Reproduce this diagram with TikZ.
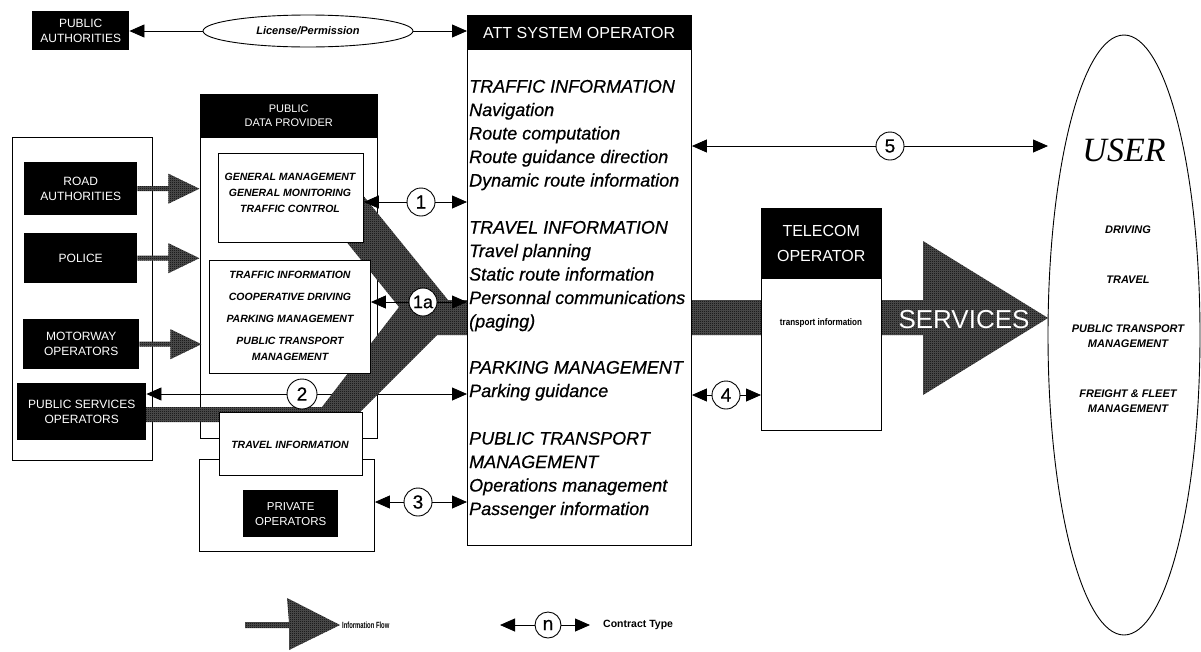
\documentclass[tikz,border=0pt]{standalone}
\usepackage{fontspec}
\usepackage{graphicx}
\setmainfont{Liberation Sans}
\newfontfamily\userfont{Liberation Serif}
\newfontfamily\attfont[FakeBold=0.6]{Liberation Sans}
\usetikzlibrary{arrows.meta,shapes.geometric,patterns}
\newcommand\fsz[2]{\fontsize{#1}{#2}\selectfont}
% fine checker used for the information-flow bands
\pgfdeclarepatternformonly{halftone}{\pgfpointorigin}{\pgfqpoint{2pt}{2pt}}{\pgfqpoint{2pt}{2pt}}{%
  \pgfpathrectangle{\pgfpointorigin}{\pgfqpoint{1pt}{1pt}}%
  \pgfpathrectangle{\pgfqpoint{1pt}{1pt}}{\pgfqpoint{1pt}{1pt}}%
  \pgfusepath{fill}}
\pgfdeclarelayer{bg}
\pgfdeclarelayer{mid}
\pgfsetlayers{bg,mid,main}
\tikzset{
  frame/.style={draw, line width=0.9pt, inner sep=0pt, anchor=north west},
  wbox/.style={frame, fill=white},
  blk/.style={fill=black, text=white, inner sep=0pt, align=center, anchor=north west, font=\fsz{12}{15}},
  band/.style={preaction={fill=black!68}, pattern=halftone, pattern color=black},
  cnum/.style={circle, draw, line width=0.9pt, fill=white, minimum size=28pt, inner sep=0pt, font=\attfont\fsz{19}{19}},
  carrow/.style={line width=0.8pt, -{Triangle[length=15pt,width=13pt]}},
  attline/.style={anchor=base west, inner sep=0pt, font=\attfont\fsz{18}{20}\itshape},
  bi/.style={inner sep=0pt, align=center, font=\fsz{10.5}{16}\bfseries\itshape},
}
% hatched feed arrow leaving the east side of a source box
\newcommand\flowarrow[1]{\path[band] (#1) ++(0,-2.5) -- ++(31,0) -- ++(0,-12.5) -- ++(31,15) -- ++(-31,15) -- ++(0,-12.5) -- ++(-31,0) -- cycle;}
\begin{document}
\begin{tikzpicture}[x=1pt,y=-1pt]
\useasboundingbox (0,0) rectangle (1201,651);

% ---------- system operator and telecom operator ----------
\node[wbox, minimum width=224pt, minimum height=530pt] (att) at (467,15) {};
\node[blk, minimum width=224pt, minimum height=35pt, font=\fsz{16}{18}] (atthead) at (467,15) {ATT SYSTEM OPERATOR};
\node[attline] (t1) at (469,92.5) {TRAFFIC INFORMATION};
\node[attline] (t2) at (469,116) {Navigation};
\node[attline] (t3) at (469,139.5) {Route computation};
\node[attline] (t4) at (469,163) {Route guidance direction};
\node[attline] (t5) at (469,186.5) {Dynamic route information};
\node[attline] (t6) at (469,233.5) {TRAVEL INFORMATION};
\node[attline] (t7) at (469,257) {Travel planning};
\node[attline] (t8) at (469,280.5) {Static route information};
\node[attline] (t9) at (469,304) {Personnal communications};
\node[attline] (t10) at (469,327.5) {(paging)};
\node[attline] (t11) at (469,373.5) {PARKING MANAGEMENT};
\node[attline] (t12) at (469,397) {Parking guidance};
\node[attline] (t13) at (469,444.5) {PUBLIC TRANSPORT};
\node[attline] (t14) at (469,468) {MANAGEMENT};
\node[attline] (t15) at (469,491.5) {Operations management};
\node[attline] (t16) at (469,515) {Passenger information};

\node[wbox, minimum width=120pt, minimum height=222pt] (tel) at (761,208) {};
\node[blk, minimum width=120pt, minimum height=71pt, font=\fsz{16}{25}] (telhead) at (761,208) {TELECOM\\OPERATOR};
\node[inner sep=0pt, font=\fsz{9.5}{10}\bfseries] (teltext) at (821,323) {\scalebox{0.85}[1]{transport information}};

% ---------- frames behind the flow bands ----------
\begin{pgfonlayer}{bg}
\node[frame, minimum width=140pt, minimum height=323pt] (srcframe) at (12,137) {};
\node[frame, minimum width=177pt, minimum height=344pt] (pdp) at (200,94) {};
\node[frame, minimum width=175pt, minimum height=92pt] (privframe) at (199,459) {};
\end{pgfonlayer}
\node[blk, minimum width=177pt, minimum height=44pt, font=\fsz{11}{14}] (pdphead) at (200,94) {PUBLIC\\DATA PROVIDER};

% ---------- source organisations ----------
\node[blk, minimum width=97pt, minimum height=39pt] (pubauth) at (32,11) {PUBLIC\\AUTHORITIES};
\node[blk, minimum width=113pt, minimum height=53pt] (road) at (24,162) {ROAD\\AUTHORITIES};
\node[blk, minimum width=113pt, minimum height=50pt] (police) at (24,233) {POLICE};
\node[blk, minimum width=116pt, minimum height=50pt] (motorway) at (23,319) {MOTORWAY\\OPERATORS};
\node[blk, minimum width=129pt, minimum height=57pt] (pubserv) at (17,383) {PUBLIC SERVICES\\OPERATORS};
\node[blk, minimum width=95pt, minimum height=47pt, font=\fsz{11.5}{15}] (private) at (243,490) {PRIVATE\\OPERATORS};

% ---------- information flow bands ----------
\begin{pgfonlayer}{mid}
\path[band] (340,167) -- (448,300) -- (923,300) -- (923,241) -- (1048,318) -- (923,395)
  -- (923,335) -- (437,335) -- (350,422) -- (146,422) -- (146,407) -- (322,407)
  -- (399,307) -- (345,240) -- cycle;
\flowarrow{road.east}
\flowarrow{police.east}
\flowarrow{motorway.east}
\end{pgfonlayer}
\node[text=white, inner sep=0pt, font=\fsz{26}{26}] (services) at (964,320) {SERVICES};

% ---------- boxes inside the public data provider ----------
\node[wbox, minimum width=145pt, minimum height=89pt] (gm) at (218,153) {};
\node[bi] (gmtext) at (290,193) {GENERAL MANAGEMENT\\GENERAL MONITORING\\TRAFFIC CONTROL};
\node[wbox, minimum width=161pt, minimum height=113pt] (ti) at (209,260) {};
\node[bi, font=\fsz{10.5}{17}\bfseries\itshape] (titext) at (290,316) {TRAFFIC INFORMATION\\[5pt]COOPERATIVE DRIVING\\[5pt]PARKING MANAGEMENT\\[5pt]PUBLIC TRANSPORT\\[-1pt]MANAGEMENT};
\node[wbox, minimum width=143pt, minimum height=63pt] (travel) at (219,412) {};
\node[bi] (traveltext) at (290,445) {TRAVEL INFORMATION};

% ---------- user ----------
\node[draw, ellipse, line width=0.9pt, minimum width=152pt, minimum height=600pt] (user) at (1124,335) {};
\node[inner sep=0pt, font=\userfont\itshape\fsz{34}{34}] (usertitle) at (1124,150) {USER};
\node[bi, font=\fsz{11}{15}\bfseries\itshape] (u1) at (1128,230) {DRIVING};
\node[bi, font=\fsz{11}{15}\bfseries\itshape] (u2) at (1128,280) {TRAVEL};
\node[bi, font=\fsz{11}{15}\bfseries\itshape] (u3) at (1128,336) {PUBLIC TRANSPORT\\MANAGEMENT};
\node[bi, font=\fsz{11}{15}\bfseries\itshape] (u4) at (1128,401) {FREIGHT \& FLEET\\MANAGEMENT};
\coordinate (userin) at (1048,146);

% ---------- licence ----------
\node[draw, ellipse, line width=0.9pt, fill=white, minimum width=210pt, minimum height=32pt, inner sep=0pt, font=\fsz{11}{11}\bfseries\itshape] (licence) at (308,31) {License/Permission};
\draw[carrow] (licence.west) -- (pubauth.east |- licence.west);
\draw[carrow] (licence.east) -- (atthead.west |- licence.east);

% ---------- contracts ----------
\node[cnum] (c1) at (421,202) {1};
\draw[carrow] (c1.west) -- (gm.east |- c1);
\draw[carrow] (c1.east) -- (att.west |- c1);
\node[cnum, font=\attfont\fsz{18}{18}] (c1a) at (423,302) {1a};
\draw[carrow] (c1a.west) -- (ti.east |- c1a);
\draw[carrow] (c1a.east) -- (att.west |- c1a);
\node[cnum, minimum size=30pt] (c2) at (302,394) {2};
\begin{pgfonlayer}{bg}
\draw[carrow] (c2.west) -- (pubserv.east |- c2);
\draw[carrow] (c2.east) -- (att.west |- c2);
\end{pgfonlayer}
\node[cnum] (c3) at (418,502) {3};
\draw[carrow] (c3.west) -- (privframe.east |- c3);
\draw[carrow] (c3.east) -- (att.west |- c3);
\node[cnum] (c4) at (726,395) {4};
\draw[carrow] (c4.west) -- (att.east |- c4);
\draw[carrow] (c4.east) -- (tel.west |- c4);
\node[cnum] (c5) at (890,146) {5};
\draw[carrow] (c5.west) -- (att.east |- c5);
\draw[carrow] (c5.east) -- (userin);

% ---------- legend ----------
\path[band] (245,622) -- (289,622) -- (287,598) -- (340,625) -- (289,650) -- (289,628) -- (245,628) -- cycle;
\node[anchor=west, inner sep=0pt, font=\fsz{9}{9}\bfseries] (lgflow) at (342,625) {\scalebox{0.65}[1]{Information Flow}};
\node[cnum, minimum size=26pt] (lgn) at (548,625) {n};
\coordinate (lgl) at (500,625);
\coordinate (lgr) at (590,625);
\draw[carrow] (lgn.west) -- (lgl);
\draw[carrow] (lgn.east) -- (lgr);
\node[anchor=west, inner sep=0pt, font=\fsz{10.5}{11}\bfseries] (lgtype) at (603,625) {Contract Type};
\end{tikzpicture}
\end{document}
